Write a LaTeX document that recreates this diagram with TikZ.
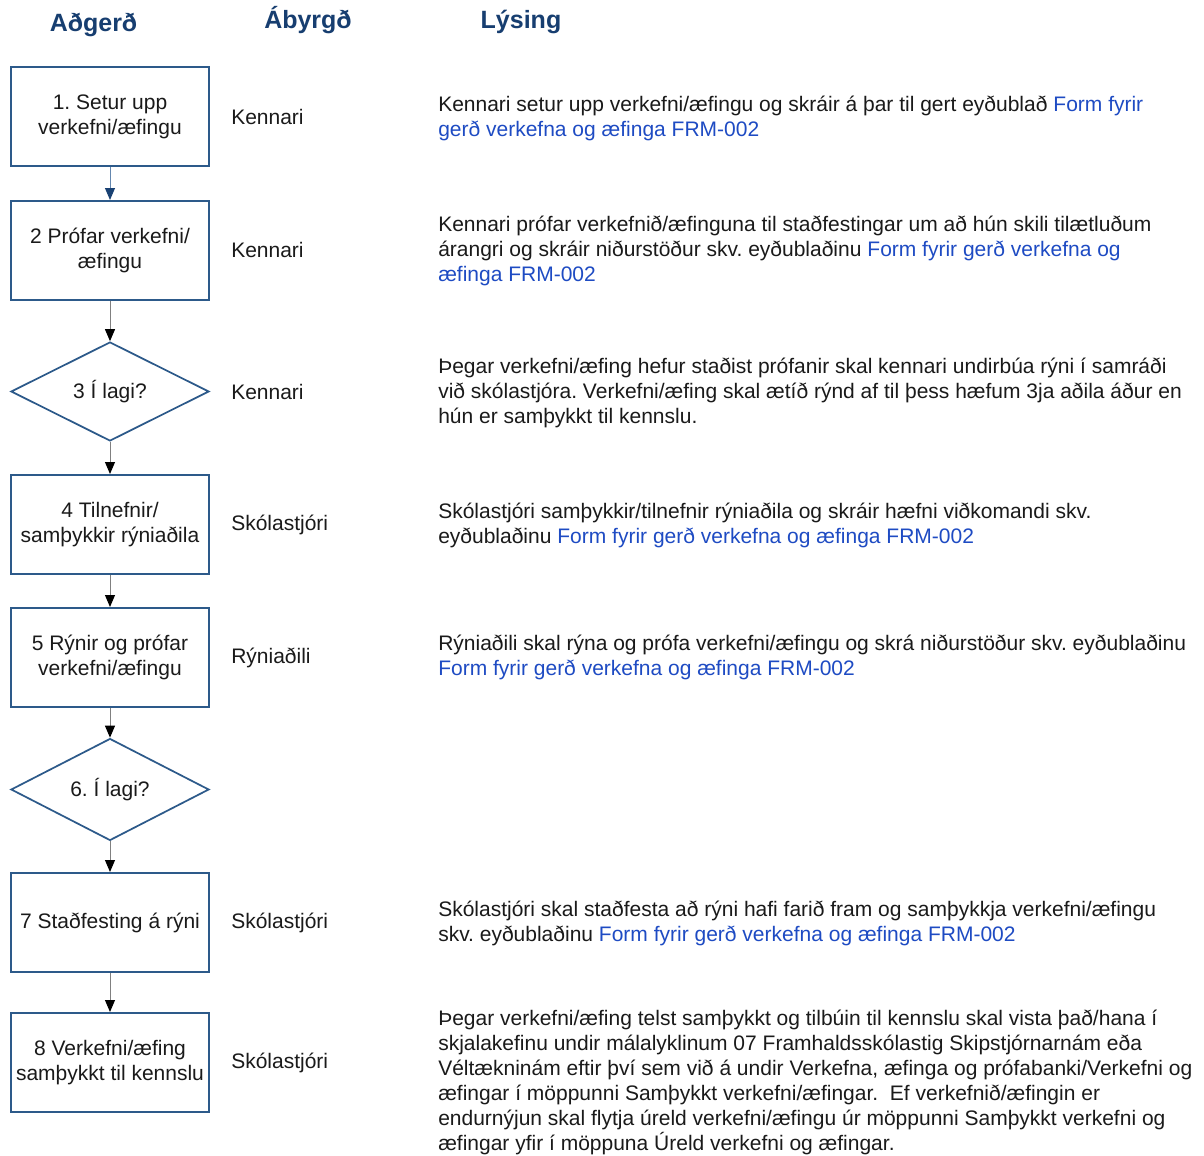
\documentclass[tikz,border=0pt]{standalone}
\usepackage{fontspec}
\setmainfont{Liberation Sans}
\usetikzlibrary{shapes.geometric,arrows.meta}
\definecolor{hdr}{RGB}{23,62,112}
\definecolor{boxc}{RGB}{45,90,138}
\definecolor{lnk}{RGB}{30,75,195}
\definecolor{txt}{RGB}{26,26,26}
\definecolor{arr}{RGB}{128,128,128}
\definecolor{arrb}{RGB}{100,135,175}
\definecolor{tipb}{RGB}{25,65,115}
\newcommand{\lk}[1]{\textcolor{lnk}{#1}}
\frenchspacing
\begin{document}
\begin{tikzpicture}[x=0.75pt,y=-0.75pt,
 every node/.style={font=\fontsize{15.75pt}{18.75pt}\selectfont, text=txt},
 stepbox/.style={draw=boxc, line width=1.5pt, minimum width=148.5pt, minimum height=74.25pt, align=center, inner sep=0pt, fill=white},
 decide/.style={diamond, draw=boxc, line width=1.3pt, minimum width=148.5pt, minimum height=74.25pt, inner sep=0pt, align=center, fill=white},
 head/.style={font=\fontsize{18.75pt}{22pt}\selectfont\bfseries, text=hdr, anchor=base, inner sep=0pt},
 role/.style={anchor=west, inner sep=0pt},
 desc/.style={anchor=west, inner sep=0pt, align=left},
 flow/.style={draw=arr, line width=0.75pt, -{Triangle[width=7.5pt,length=9pt,color=black]}},
 flowb/.style={draw=arrb, line width=0.75pt, -{Triangle[width=7.5pt,length=9pt,color=tipb]}}
]
\useasboundingbox[fill=white] (0,0) rectangle (1204,1156);

% headers
\node[head] (h1) at (93.5,32) {Aðgerð};
\node[head] (h2) at (308,29) {Ábyrgð};
\node[head] (h3) at (521,29) {Lýsing};

% flow nodes
\node[stepbox] (s1) at (110,116.5) {1. Setur upp\\verkefni/æfingu};
\node[stepbox] (s2) at (110,250.5) {2 Prófar verkefni/\\æfingu};
\node[decide]  (s3) at (110,391.5) {3 Í lagi?};
\node[stepbox] (s4) at (110,524.5) {4 Tilnefnir/\\samþykkir rýniaðila};
\node[stepbox] (s5) at (110,657.5) {5 Rýnir og prófar\\verkefni/æfingu};
\node[decide]  (s6) at (110,789.5) {6. Í lagi?};
\node[stepbox] (s7) at (110,922.5) {7 Staðfesting á rýni};
\node[stepbox] (s8) at (110,1062.5) {8 Verkefni/æfing\\samþykkt til kennslu};

% connectors
\draw[flowb] (s1.south) -- (s2.north);
\draw[flow] (s2.south) -- (s3.north);
\draw[flow] (s3.south) -- (s4.north);
\draw[flow] (s4.south) -- (s5.north);
\draw[flow] (s5.south) -- (s6.north);
\draw[flow] (s6.south) -- (s7.north);
\draw[flow] (s7.south) -- (s8.north);

% roles
\node[role] (r1) at (231,117) {Kennari};
\node[role] (r2) at (231,250) {Kennari};
\node[role] (r3) at (231,392) {Kennari};
\node[role] (r4) at (231,525) {Skólastjóri};
\node[role] (r5) at (231,657.5) {Rýniaðili};
\node[role] (r7) at (231,922.5) {Skólastjóri};
\node[role] (r8) at (231,1062.5) {Skólastjóri};

% descriptions
\node[desc] (d1) at (438,118.5) {Kennari setur upp verkefni/æfingu og skráir á þar til gert eyðublað \lk{Form fyrir}\\\lk{gerð verkefna og æfinga FRM-002}};
\node[desc] (d2) at (438,250.5) {Kennari prófar verkefnið/æfinguna til staðfestingar um að hún skili tilætluðum\\árangri og skráir niðurstöður skv. eyðublaðinu \lk{Form fyrir gerð verkefna og}\\\lk{æfinga FRM-002}};
\node[desc] (d3) at (438,393) {Þegar verkefni/æfing hefur staðist prófanir skal kennari undirbúa rýni í samráði\\við skólastjóra. Verkefni/æfing skal ætíð rýnd af til þess hæfum 3ja aðila áður en\\hún er samþykkt til kennslu.};
\node[desc] (d4) at (438,525.5) {Skólastjóri samþykkir/tilnefnir rýniaðila og skráir hæfni viðkomandi skv.\\eyðublaðinu \lk{Form fyrir gerð verkefna og æfinga FRM-002}};
\node[desc] (d5) at (438,657.5) {Rýniaðili skal rýna og prófa verkefni/æfingu og skrá niðurstöður skv. eyðublaðinu\\\lk{Form fyrir gerð verkefna og æfinga FRM-002}};
\node[desc] (d7) at (438,923.5) {Skólastjóri skal staðfesta að rýni hafi farið fram og samþykkja verkefni/æfingu\\skv. eyðublaðinu \lk{Form fyrir gerð verkefna og æfinga FRM-002}};
\node[desc] (d8) at (438,1082.5) {Þegar verkefni/æfing telst samþykkt og tilbúin til kennslu skal vista það/hana í\\skjalakefinu undir málalyklinum 07 Framhaldsskólastig Skipstjórnarnám eða\\Véltækninám eftir því sem við á undir Verkefna, æfinga og prófabanki/Verkefni og\\æfingar í möppunni Samþykkt verkefni/æfingar.\ \ Ef verkefnið/æfingin er\\endurnýjun skal flytja úreld verkefni/æfingu úr möppunni Samþykkt verkefni og\\æfingar yfir í möppuna Úreld verkefni og æfingar.};
\end{tikzpicture}
\end{document}
